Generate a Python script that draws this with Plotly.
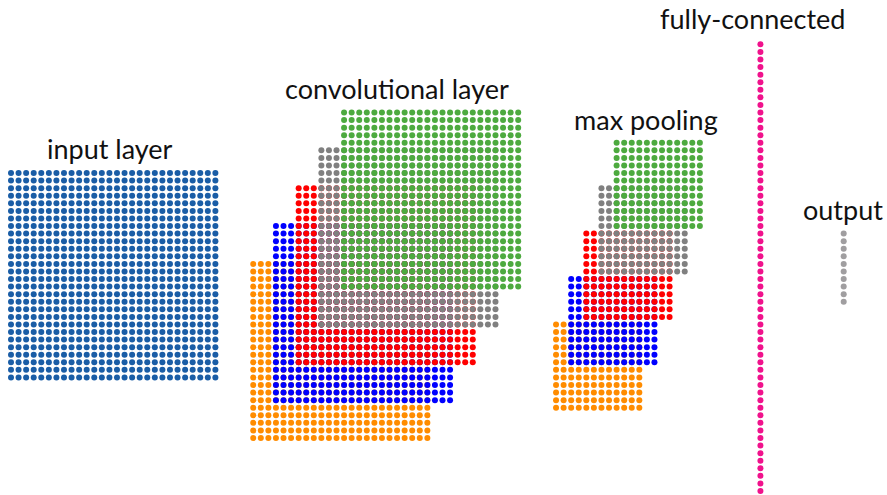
import plotly.graph_objects as go

# ---- data: layer grids (in dot units) ----
input_size = 28
input_origin = (0, 8)          # left column, bottom row

conv_size = 24
conv_colors = ["#FF8C00", "#0000FF", "#FF0000", "#808080", "#4DAA3F"]
conv_origin_x = [32, 35, 38, 41, 44]
conv_origin_y = [0, 5, 10, 15, 20]

pool_size = 12
pool_colors = ["#FF8C00", "#0000FF", "#FF0000", "#808080", "#4DAA3F"]
pool_origin_x = [72, 74, 76, 78, 80]
pool_origin_y = [4, 10, 16, 22, 28]

fc_count = 60
fc_x = 99
fc_bottom = -7

out_count = 10
out_x = 110
out_bottom = 18

labels = ["input layer", "convolutional layer", "max pooling", "fully-connected", "output"]
label_px = [(110, 149), (397, 88), (646, 119), (752, 18), (843, 209)]

W, H = 887, 495
S = 7.57       # px per dot
X0 = 11        # px of u=0
Y0 = 438       # px of v=0


def grid(ox, oy, n):
    xs, ys = [], []
    for j in range(n):
        for i in range(n):
            xs.append(ox + i)
            ys.append(oy + j)
    return xs, ys


fig = go.Figure()
ms = 6

xs, ys = grid(input_origin[0], input_origin[1], input_size)
fig.add_trace(go.Scatter(x=xs, y=ys, mode="markers",
                         marker=dict(size=ms, color="#1A5DA6"), hoverinfo="skip"))

for c, ox, oy in zip(conv_colors, conv_origin_x, conv_origin_y):
    xs, ys = grid(ox, oy, conv_size)
    fig.add_trace(go.Scatter(x=xs, y=ys, mode="markers",
                             marker=dict(size=ms, color=c), hoverinfo="skip"))

for c, ox, oy in zip(pool_colors, pool_origin_x, pool_origin_y):
    xs, ys = grid(ox, oy, pool_size)
    fig.add_trace(go.Scatter(x=xs, y=ys, mode="markers",
                             marker=dict(size=ms, color=c), hoverinfo="skip"))

fig.add_trace(go.Scatter(x=[fc_x] * fc_count, y=[fc_bottom + k for k in range(fc_count)],
                         mode="markers", marker=dict(size=ms, color="#F0128C"),
                         hoverinfo="skip"))
fig.add_trace(go.Scatter(x=[out_x] * out_count, y=[out_bottom + k for k in range(out_count)],
                         mode="markers", marker=dict(size=ms, color="#A09EA0"),
                         hoverinfo="skip"))

for t, (px, py) in zip(labels, label_px):
    fig.add_annotation(text=t, x=px / W, y=1 - py / H, xref="paper", yref="paper",
                       xanchor="center", yanchor="middle", showarrow=False,
                       font=dict(family="Lato", size=27, color="#111111"))

fig.update_layout(
    width=W, height=H, margin=dict(l=0, r=0, t=0, b=0),
    paper_bgcolor="white", plot_bgcolor="white", showlegend=False,
    xaxis=dict(range=[-X0 / S, (W - X0) / S], visible=False, fixedrange=True),
    yaxis=dict(range=[(Y0 - H) / S, Y0 / S], visible=False, fixedrange=True),
)
fig.write_html("out.html", post_script="document.body.style.margin='0';",
               config={"displayModeBar": False})
